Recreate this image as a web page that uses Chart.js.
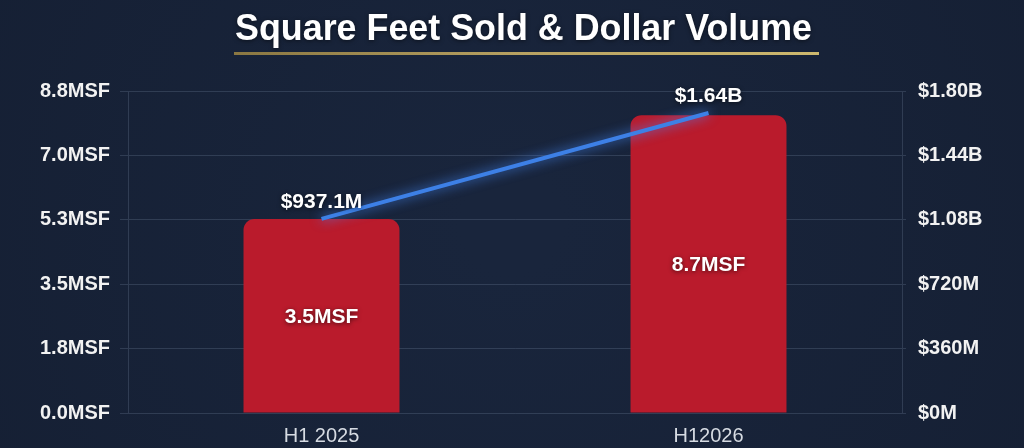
<!DOCTYPE html>
<html>
<head>
<meta charset="utf-8">
<title>Square Feet Sold & Dollar Volume</title>
<script src="https://cdn.jsdelivr.net/npm/chart.js@4.4.1/dist/chart.umd.min.js"></script>
<style>
    html, body { margin: 0; padding: 0; background: #17223a; }
    #wrap { width: 1024px; height: 448px; position: relative; }
</style>
</head>
<body>
<div id="wrap"><canvas id="sqftChart"></canvas></div>
<script>
// Data
const categories = ['H1 2025', 'H12026'];
const sqftValues = [5.3, 8.14];          // bar heights (MSF, left axis)
const sqftLabels = ['3.5MSF', '8.7MSF']; // text printed inside the bars
const dollarValues = [1085, 1677];       // line points ($M, right axis)
const dollarLabels = ['$937.1M', '$1.64B'];

// Axis ticks
const sqftTicks = [0, 1.76, 3.52, 5.28, 7.04, 8.8];
const sqftTickLabels = ['0.0MSF', '1.8MSF', '3.5MSF', '5.3MSF', '7.0MSF', '8.8MSF'];
const dollarTicks = [0, 360, 720, 1080, 1440, 1800];
const dollarTickLabels = ['$0M', '$360M', '$720M', '$1.08B', '$1.44B', '$1.80B'];

const titleText = 'Square Feet Sold & Dollar Volume';
const FONT = "'Liberation Sans', Arial, sans-serif";

// Background + title with gold underline
const frame = {
    id: 'frame',
    beforeDraw(chart) {
        const ctx = chart.ctx;
        const w = chart.width, h = chart.height;
        ctx.save();
        const g = ctx.createRadialGradient(w / 2, h / 2, 50, w / 2, h / 2, w * 0.65);
        g.addColorStop(0, '#19253c');
        g.addColorStop(1, '#151f33');
        ctx.fillStyle = g;
        ctx.fillRect(0, 0, w, h);
        ctx.restore();
    },
    afterDraw(chart) {
        const ctx = chart.ctx;
        ctx.save();
        ctx.font = 'bold 36px ' + FONT;
        ctx.fillStyle = '#ffffff';
        ctx.textAlign = 'center';
        ctx.textBaseline = 'alphabetic';
        ctx.shadowColor = 'rgba(0,0,0,0.5)';
        ctx.shadowBlur = 4;
        ctx.shadowOffsetY = 1;
        ctx.fillText(titleText, 523.5, 40, 577);
        ctx.shadowColor = 'transparent';
        const lg = ctx.createLinearGradient(234, 0, 819, 0);
        lg.addColorStop(0, '#8a7742');
        lg.addColorStop(0.5, '#b8a262');
        lg.addColorStop(1, '#cdb86e');
        ctx.fillStyle = lg;
        ctx.fillRect(234, 52, 585, 3);
        ctx.restore();
    }
};

// Glow on the line
const glow = {
    id: 'glow',
    beforeDatasetDraw(chart, args) {
        if (args.meta.type !== 'line') return;
        const ctx = chart.ctx;
        ctx.save();
        ctx.shadowColor = 'rgba(70,140,255,0.9)';
        ctx.shadowBlur = 12;
    },
    afterDatasetDraw(chart, args) {
        if (args.meta.type !== 'line') return;
        chart.ctx.restore();
    }
};

// Value labels
const valueLabels = {
    id: 'valueLabels',
    afterDatasetsDraw(chart) {
        const ctx = chart.ctx;
        ctx.save();
        ctx.font = 'bold 21px ' + FONT;
        ctx.fillStyle = '#ffffff';
        ctx.textAlign = 'center';
        ctx.textBaseline = 'middle';
        ctx.shadowColor = 'rgba(0,0,0,0.6)';
        ctx.shadowBlur = 4;
        ctx.shadowOffsetY = 1;

        const barMeta = chart.getDatasetMeta(1);
        barMeta.data.forEach((bar, i) => {
            ctx.fillText(sqftLabels[i], bar.x, (bar.y + bar.base) / 2 + 1);
        });

        const lineMeta = chart.getDatasetMeta(0);
        lineMeta.data.forEach((pt, i) => {
            ctx.fillText(dollarLabels[i], pt.x, pt.y - 17);
        });
        ctx.restore();
    }
};

const gridColor = 'rgba(140,160,185,0.22)';

const ctx = document.getElementById('sqftChart').getContext('2d');
new Chart(ctx, {
    data: {
        labels: categories,
        datasets: [
            {
                type: 'line',
                label: 'Dollar Volume',
                data: dollarValues,
                yAxisID: 'y1',
                borderColor: '#3d80e6',
                borderWidth: 4,
                pointRadius: 0,
                fill: false,
                order: 0
            },
            {
                type: 'bar',
                label: 'Square Feet Sold',
                data: sqftValues,
                yAxisID: 'y',
                backgroundColor: '#ba1b2c',
                borderRadius: { topLeft: 11, topRight: 11, bottomLeft: 0, bottomRight: 0 },
                borderSkipped: 'bottom',
                categoryPercentage: 1,
                barPercentage: 0.403,
                order: 1
            }
        ]
    },
    options: {
        responsive: true,
        maintainAspectRatio: false,
        animation: false,
        layout: { padding: { top: 91, left: 0, right: 0, bottom: 0 } },
        plugins: {
            legend: { display: false },
            tooltip: { enabled: false }
        },
        scales: {
            x: {
                offset: true,
                grid: { display: false, drawTicks: false },
                border: { display: false },
                ticks: {
                    color: '#d6dbe2',
                    font: { family: FONT, size: 20 },
                    padding: 11
                },
                afterFit(scale) { scale.height = 35; }
            },
            y: {
                position: 'left',
                min: 0,
                max: 8.8,
                afterBuildTicks(scale) {
                    scale.ticks = sqftTicks.map(v => ({ value: v }));
                },
                ticks: {
                    color: '#f2f2f2',
                    font: { family: FONT, size: 20, weight: 'bold' },
                    padding: 10,
                    callback: (v, i) => sqftTickLabels[i]
                },
                grid: { color: gridColor, lineWidth: 1, tickLength: 8 },
                border: { display: true, color: gridColor },
                afterFit(scale) { scale.width = 128; }
            },
            y1: {
                position: 'right',
                min: 0,
                max: 1800,
                afterBuildTicks(scale) {
                    scale.ticks = dollarTicks.map(v => ({ value: v }));
                },
                ticks: {
                    color: '#f2f2f2',
                    font: { family: FONT, size: 20, weight: 'bold' },
                    padding: 12,
                    callback: (v, i) => dollarTickLabels[i]
                },
                grid: { drawOnChartArea: false, color: gridColor, tickLength: 4 },
                border: { display: true, color: gridColor },
                afterFit(scale) { scale.width = 122; }
            }
        }
    },
    plugins: [frame, glow, valueLabels]
});
</script>
</body>
</html>
